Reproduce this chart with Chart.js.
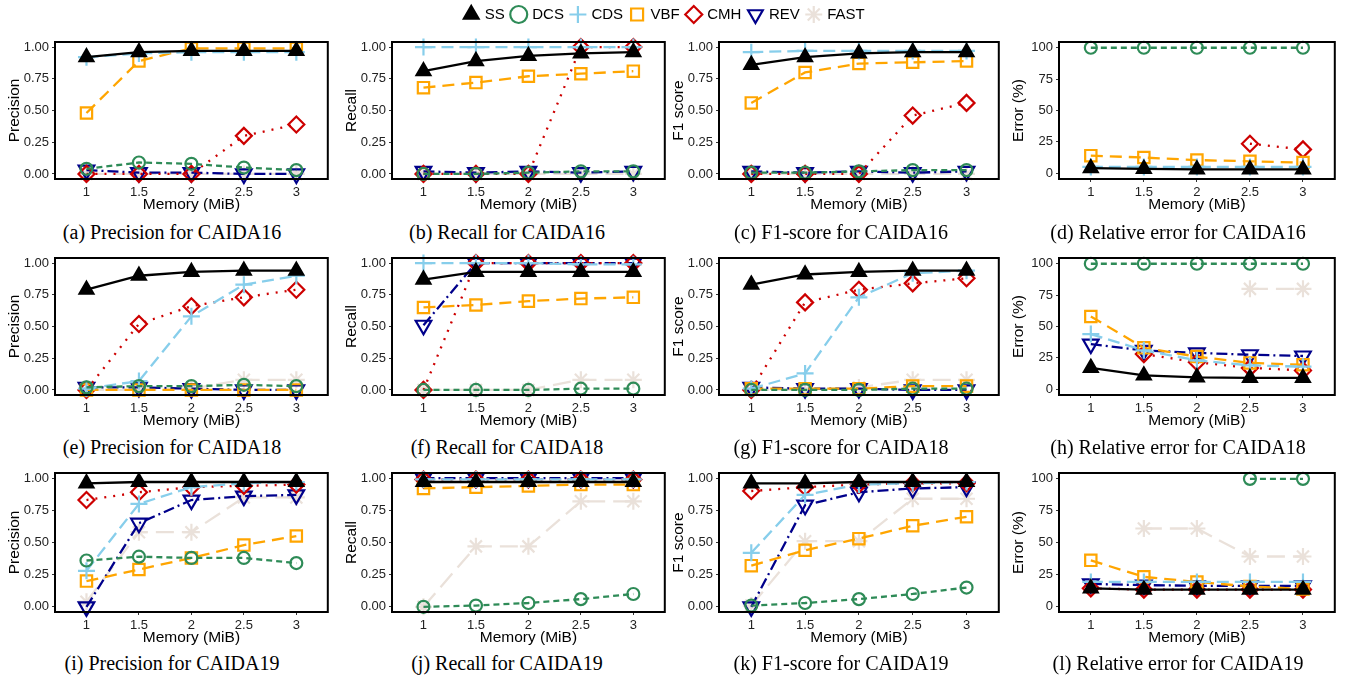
<!DOCTYPE html>
<html>
<head>
<meta charset="utf-8">
<script src="https://cdn.jsdelivr.net/npm/chart.js@4.4.1/dist/chart.umd.min.js"></script>
<style>
  body { margin: 0; width: 1346px; height: 679px; overflow: hidden; background: #fff; position: relative; }
  canvas { position: absolute; }
  .caption {
    position: absolute;
    font-family: 'Liberation Serif', 'Times New Roman', serif;
    font-size: 20px;
    color: #000;
    white-space: nowrap;
    transform: translate(-50%, -50%);
  }
</style>
</head>
<body>
<script>
// x values and tick labels
var memory = [1, 1.5, 2, 2.5, 3];
var methods = ['SS', 'DCS', 'CDS', 'VBF', 'CMH', 'REV', 'FAST'];
var scoreTicks = [0, 0.25, 0.5, 0.75, 1];
var errorTicks = [0, 25, 50, 75, 100];

// each panel: one row per method, in the order of `methods`
var precision16 = [
    [0.92, 0.96, 0.97, 0.97, 0.97],
    [0.04, 0.09, 0.08, 0.05, 0.03],
    [0.92, 0.95, 0.96, 0.96, 0.96],
    [0.48, 0.89, 0.99, 0.99, 0.99],
    [0, 0, 0, 0.30, 0.39],
    [0.03, 0.01, 0.01, 0, 0],
    [0, 0, 0, 0, 0]
];
var recall16 = [
    [0.81, 0.89, 0.93, 0.95, 0.96],
    [0, 0, 0.01, 0.02, 0.02],
    [1, 1, 1, 1, 1],
    [0.68, 0.72, 0.77, 0.79, 0.81],
    [0, 0, 0, 1, 1],
    [0.02, 0.01, 0.02, 0.01, 0.02],
    [0, 0, 0, 0, 0]
];
var f1score16 = [
    [0.86, 0.92, 0.95, 0.96, 0.96],
    [0.01, 0.01, 0.02, 0.03, 0.03],
    [0.96, 0.97, 0.97, 0.97, 0.97],
    [0.56, 0.80, 0.87, 0.88, 0.89],
    [0, 0, 0, 0.46, 0.56],
    [0.02, 0.01, 0.02, 0.01, 0.02],
    [0, 0, 0, 0, 0]
];
var error16 = [
    [4, 3.5, 3, 3, 3],
    [100, 100, 100, 100, 100],
    [5, 5, 5, 5, 5],
    [14, 12.5, 10.5, 9.5, 8.5],
    [null, null, null, 23.5, 19],
    [null, null, null, null, null],
    [null, null, null, null, null]
];
var precision18 = [
    [0.79, 0.90, 0.93, 0.94, 0.94],
    [0.02, 0.03, 0.03, 0.04, 0.03],
    [0.01, 0.07, 0.58, 0.83, 0.90],
    [0, 0, 0, 0, 0],
    [0, 0.52, 0.66, 0.73, 0.79],
    [0.02, 0.02, 0.01, 0, 0],
    [0, 0, 0.01, 0.08, 0.08]
];
var recall18 = [
    [0.87, 0.93, 0.93, 0.93, 0.93],
    [0, 0, 0, 0.01, 0.01],
    [1, 1, 1, 0.99, 0.99],
    [0.65, 0.67, 0.70, 0.72, 0.73],
    [0, 1, 1, 1, 1],
    [0.51, 1, 1, 1, 1],
    [0, 0, 0, 0.08, 0.08]
];
var f1score18 = [
    [0.83, 0.91, 0.93, 0.94, 0.94],
    [0, 0, 0, 0.01, 0.01],
    [0.01, 0.13, 0.73, 0.92, 0.94],
    [0.01, 0.01, 0.01, 0.03, 0.03],
    [0, 0.69, 0.79, 0.84, 0.88],
    [0.02, 0.01, 0.01, 0, 0],
    [0, 0, 0.02, 0.08, 0.08]
];
var error18 = [
    [17, 11, 9.5, 9, 9],
    [100, 100, 100, 100, 100],
    [44, 31, 23, 19, 18],
    [58, 33, 26, 21, 19.5],
    [null, 28, 21.5, 17, 15],
    [36, 31, 29, 27.5, 26.5],
    [null, null, null, 80, 80]
];
var precision19 = [
    [0.96, 0.97, 0.97, 0.97, 0.97],
    [0.36, 0.39, 0.38, 0.38, 0.34],
    [0.28, 0.80, 0.93, 0.96, 0.97],
    [0.20, 0.29, 0.38, 0.48, 0.55],
    [0.83, 0.89, 0.93, 0.94, 0.95],
    [0, 0.65, 0.83, 0.86, 0.87],
    [0.04, 0.58, 0.58, 0.85, 0.85]
];
var recall19 = [
    [0.97, 0.97, 0.97, 0.97, 0.97],
    [0, 0.01, 0.03, 0.06, 0.10],
    [0.99, 0.99, 0.99, 0.99, 0.99],
    [0.92, 0.93, 0.94, 0.95, 0.95],
    [0.99, 0.99, 0.99, 0.99, 0.99],
    [1, 1, 1, 1, 1],
    [0, 0.47, 0.47, 0.82, 0.82]
];
var f1score19 = [
    [0.96, 0.96, 0.97, 0.97, 0.97],
    [0.01, 0.03, 0.06, 0.10, 0.15],
    [0.42, 0.87, 0.95, 0.96, 0.97],
    [0.32, 0.44, 0.53, 0.63, 0.70],
    [0.90, 0.93, 0.95, 0.96, 0.96],
    [0, 0.79, 0.89, 0.92, 0.93],
    [0.01, 0.51, 0.51, 0.84, 0.84]
];
var error19 = [
    [14, 13, 13, 13, 13],
    [null, null, null, 100, 100],
    [19, 19, 19, 19, 19],
    [36, 23, 19, 15.5, 13.5],
    [14, 13, 13, 13, 13],
    [17.5, 16.5, 16, 16, 16],
    [null, 61, 61, 39, 39]
];

// series styles
var lineColors = ['#000000', '#2E8B57', '#87CEEB', '#FFA500', '#CD0000', '#00008B', '#EAE1DA'];
var pointStyles = ['triangle', 'circle', 'cross', 'rect', 'rectRot', 'triangle', 'star'];
var pointRotations = [0, 0, 0, 0, 0, 180, 0];
var pointSizes = [8, 6, 8.5, 8, 8, 9, 8.5];
var lineDashes = [[], [6, 4], [12, 6], [12, 7], [2, 7], [11, 4, 2, 4], [18, 8]];

// layout (pixels)
var boxLeft = [55, 392, 719, 1059];
var boxRight = [333, 670, 1004, 1340];
var boxTop = [42, 258, 473];
var boxBottom = [179, 395, 612];
var captionX = [172, 507, 841, 1178];
var captionY = [232, 447, 663];
var yAxisW = 50, xAxisH = 35, padTop = 14, padRight = 6;

var panels = [
    { rows: precision16, yTitle: 'Precision', caption: '(a) Precision for CAIDA16' },
    { rows: recall16, yTitle: 'Recall', caption: '(b) Recall for CAIDA16' },
    { rows: f1score16, yTitle: 'F1 score', caption: '(c) F1-score for CAIDA16' },
    { rows: error16, yTitle: 'Error (%)', caption: '(d) Relative error for CAIDA16', error: true },
    { rows: precision18, yTitle: 'Precision', caption: '(e) Precision for CAIDA18' },
    { rows: recall18, yTitle: 'Recall', caption: '(f) Recall for CAIDA18' },
    { rows: f1score18, yTitle: 'F1 score', caption: '(g) F1-score for CAIDA18' },
    { rows: error18, yTitle: 'Error (%)', caption: '(h) Relative error for CAIDA18', error: true },
    { rows: precision19, yTitle: 'Precision', caption: '(i) Precision for CAIDA19' },
    { rows: recall19, yTitle: 'Recall', caption: '(j) Recall for CAIDA19' },
    { rows: f1score19, yTitle: 'F1 score', caption: '(k) F1-score for CAIDA19' },
    { rows: error19, yTitle: 'Error (%)', caption: '(l) Relative error for CAIDA19', error: true }
];

Chart.defaults.font.family = "'Liberation Sans', Arial, Helvetica, sans-serif";
Chart.defaults.animation = false;

// black frame round the plotting area
var panelBox = {
    id: 'panelBox',
    afterDatasetsDraw: function (chart) {
        var a = chart.chartArea, ctx = chart.ctx;
        ctx.save();
        ctx.lineWidth = 2;
        ctx.strokeStyle = '#000';
        ctx.strokeRect(a.left, a.top, a.right - a.left, a.bottom - a.top);
        ctx.restore();
    }
};

function makeDatasets(rows) {
    return methods.map(function (name, k) {
        return {
            label: name,
            data: rows ? rows[k].map(function (v, j) { return { x: memory[j], y: v }; }) : [],
            borderColor: lineColors[k],
            borderWidth: 2.3,
            borderDash: lineDashes[k],
            pointStyle: pointStyles[k],
            pointRotation: pointRotations[k],
            pointRadius: pointSizes[k],
            pointBorderWidth: 2.2,
            pointBorderColor: lineColors[k],
            pointBackgroundColor: k === 0 ? '#000000' : 'rgba(255,255,255,0)',
            spanGaps: false,
            tension: 0,
            clip: false
        };
    });
}

function makeCanvas(left, top, w, h) {
    var cv = document.createElement('canvas');
    cv.width = w;
    cv.height = h;
    cv.style.left = left + 'px';
    cv.style.top = top + 'px';
    cv.style.width = w + 'px';
    cv.style.height = h + 'px';
    document.body.appendChild(cv);
    return cv;
}

panels.forEach(function (p, i) {
    var col = i % 4, row = Math.floor(i / 4);
    var w = boxRight[col] - boxLeft[col] + yAxisW + padRight;
    var h = boxBottom[row] - boxTop[row] + padTop + xAxisH;
    var cv = makeCanvas(boxLeft[col] - yAxisW, boxTop[row] - padTop, w, h);
    var yTicks = p.error ? errorTicks : scoreTicks;

    new Chart(cv.getContext('2d'), {
        type: 'line',
        data: { datasets: makeDatasets(p.rows) },
        options: {
            responsive: false,
            devicePixelRatio: 1,
            events: [],
            layout: { padding: { top: padTop, right: padRight, left: 0, bottom: 0 } },
            plugins: { legend: { display: false }, tooltip: { enabled: false } },
            scales: {
                x: {
                    type: 'linear',
                    min: 0.7,
                    max: 3.3,
                    afterBuildTicks: function (s) { s.ticks = memory.map(function (v) { return { value: v }; }); },
                    afterFit: function (s) { s.height = xAxisH; },
                    ticks: {
                        autoSkip: false,
                        maxRotation: 0,
                        padding: 3,
                        color: '#222',
                        font: { size: 13 },
                        callback: function (v) { return String(v); }
                    },
                    grid: { drawOnChartArea: false, drawTicks: true, tickLength: 3, color: '#333' },
                    border: { display: false },
                    title: { display: true, text: 'Memory (MiB)', color: '#000', font: { size: 15.5 }, padding: { top: 0, bottom: 0 } }
                },
                y: {
                    min: p.error ? -4.6 : -0.04,
                    max: p.error ? 104.6 : 1.04,
                    afterBuildTicks: function (s) { s.ticks = yTicks.map(function (v) { return { value: v }; }); },
                    afterFit: function (s) { s.width = yAxisW; },
                    ticks: {
                        padding: 3,
                        color: '#222',
                        font: { size: 13 },
                        callback: function (v) { return p.error ? String(v) : v.toFixed(2); }
                    },
                    grid: { drawOnChartArea: false, drawTicks: true, tickLength: 3, color: '#333' },
                    border: { display: false },
                    title: { display: true, text: p.yTitle, color: '#000', font: { size: 15.5 }, padding: { top: 0, bottom: 0 } }
                }
            }
        },
        plugins: [panelBox]
    });

    var cap = document.createElement('div');
    cap.className = 'caption';
    cap.textContent = p.caption;
    cap.style.left = captionX[col] + 'px';
    cap.style.top = captionY[row] + 'px';
    document.body.appendChild(cap);
});

// shared legend on top
var legendCanvas = makeCanvas(0, -1, 1330, 40);
new Chart(legendCanvas.getContext('2d'), {
    type: 'line',
    data: { datasets: makeDatasets(null) },
    options: {
        responsive: false,
        devicePixelRatio: 1,
        events: [],
        scales: { x: { display: false }, y: { display: false } },
        plugins: {
            tooltip: { enabled: false },
            legend: {
                display: true,
                position: 'top',
                maxHeight: 40,
                labels: {
                    usePointStyle: true,
                    boxWidth: 12,
                    boxHeight: 12,
                    padding: 8,
                    color: '#000',
                    font: { size: 15 }
                }
            }
        }
    }
});
</script>
</body>
</html>
